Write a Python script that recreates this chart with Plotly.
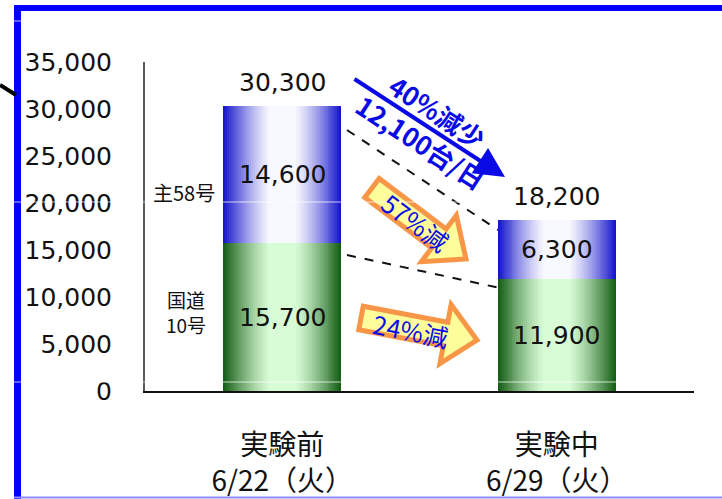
import plotly.graph_objects as go

# ---- data ----
categories = ["実験前", "実験中"]
dates = ["6/22（火）", "6/29（火）"]
route10 = [15700, 11900]      # 国道10号
route58 = [14600, 6300]       # 主58号
totals = [a + b for a, b in zip(route10, route58)]

FONT = "Noto Sans CJK JP"
NUM_FONT = "DejaVu Sans, Noto Sans CJK JP"
W, H = 722, 499
L, R, T, B = 145, 28, 62, 108          # plot-area margins (px)
PW, PH = W - L - R, H - T - B
BAR_W = 0.43
BLUE_TXT = "#0a0ae6"


def px(x, y):
    """pixel position -> paper coordinates"""
    return (x - L) / PW, (H - B - y) / PH


def mix(c1, c2, f):
    return "rgb(%d,%d,%d)" % tuple(round(a + (b - a) * f) for a, b in zip(c1, c2))


def edge_weight(t):
    v = max(0.0, min(1.0, (t - 0.22) / 0.78))
    return v ** 1.3


fig = go.Figure()

# horizontally shaded bars: concentric layers, darkest at the outer edges
N = 30
xs = list(range(len(categories)))
series = [
    (route10, [0] * len(route10), (22, 95, 22), (216, 252, 214)),
    (route58, route10, (22, 22, 205), (248, 248, 255)),
]
for k in range(N):
    t = (N - k) / N
    for vals, base, dark, light in series:
        fig.add_trace(go.Bar(
            x=xs, y=vals, base=base, width=BAR_W * t,
            marker=dict(color=mix(light, dark, edge_weight(t)), line=dict(width=0)),
            hoverinfo="skip", showlegend=False,
        ))

annotations = []
VAL_FONT = dict(size=25, color="#111", family=NUM_FONT)
# segment values and totals
for i in xs:
    annotations.append(dict(x=i, y=route10[i] / 2, xref="x", yref="y", text=f"{route10[i]:,}",
                            showarrow=False, font=VAL_FONT))
    annotations.append(dict(x=i, y=route10[i] + route58[i] / 2, xref="x", yref="y",
                            text=f"{route58[i]:,}", showarrow=False, font=VAL_FONT))
    annotations.append(dict(x=i, y=totals[i], xref="x", yref="y", text=f"{totals[i]:,}",
                            yanchor="bottom", yshift=7, showarrow=False, font=VAL_FONT))


def label(text, x, y, size, color="#111", angle=0):
    xp, yp = px(x, y)
    annotations.append(dict(x=xp, y=yp, xref="paper", yref="paper", text=text, textangle=angle,
                            xanchor="center", yanchor="middle", showarrow=False,
                            font=dict(size=size, color=color)))


# route names
label("主58号", 184, 192, 20)
label("国道<br>10号", 186, 312, 19)

# overall decrease arrow
tx, ty = px(505, 177)
annotations.append(dict(x=tx, y=ty, xref="paper", yref="paper", text="", showarrow=True,
                        ax=353 - 505, ay=78 - 177, arrowhead=2, arrowsize=1.5,
                        arrowwidth=4, arrowcolor=BLUE_TXT))
label("<b>40%減少</b>", 438, 111, 26, BLUE_TXT, 33)
label("<b>12,100台/日</b>", 421, 141, 26, BLUE_TXT, 33)

shapes = []


def block_arrow(s, t, hw, hh, hl):
    sx, sy = s
    tx_, ty_ = t
    d = ((tx_ - sx) ** 2 + (ty_ - sy) ** 2) ** 0.5
    ux, uy = (tx_ - sx) / d, (ty_ - sy) / d
    nx, ny = -uy, ux
    bx, by = tx_ - ux * hl, ty_ - uy * hl
    pts = [(sx + nx * hw, sy + ny * hw), (bx + nx * hw, by + ny * hw), (bx + nx * hh, by + ny * hh),
           (tx_, ty_), (bx - nx * hh, by - ny * hh), (bx - nx * hw, by - ny * hw),
           (sx - nx * hw, sy - ny * hw)]
    path = "M " + " L ".join("%.5f,%.5f" % px(x, y) for x, y in pts) + " Z"
    return dict(type="path", xref="paper", yref="paper", path=path,
                fillcolor="#fdfd9c", line=dict(color="#f79646", width=5), layer="above")


shapes.append(block_arrow((372, 188), (466, 259), 12, 29, 34))
shapes.append(block_arrow((361, 318), (477, 340), 12, 30, 32))
label("57%減", 416, 222, 25, BLUE_TXT, 37)
label("24%減", 411, 330, 25, BLUE_TXT, 11)

# dashed connectors between the bars
for (x0, y0), (x1, y1) in [((347, 130), (498, 230)), ((347, 255), (500, 288))]:
    a, b = px(x0, y0)
    c, d = px(x1, y1)
    shapes.append(dict(type="line", xref="paper", yref="paper", x0=a, y0=b, x1=c, y1=d,
                       line=dict(color="#111", width=2, dash="dash")))


def pline(p0, p1, color, width, layer="above"):
    a, b = px(*p0)
    c, d = px(*p1)
    shapes.append(dict(type="line", xref="paper", yref="paper", x0=a, y0=b, x1=c, y1=d,
                       line=dict(color=color, width=width), layer=layer))


# slide frame
pline((17.5, 5), (17.5, 499), "#0000ff", 7)
pline((14, 8), (722, 8), "#0000ff", 6)
pline((14, 497.5), (722, 497.5), "#8c8cff", 2)
pline((0, 85), (16, 95), "#000", 4)
# faint guide lines
for gy in (21, 202, 382):
    pline((0, gy), (722, gy), "rgba(255,255,255,0.75)", 1)

fig.update_layout(
    width=W, height=H, barmode="overlay", bargap=0,
    margin=dict(l=L, r=R, t=T, b=B, pad=0, autoexpand=False),
    paper_bgcolor="white", plot_bgcolor="white",
    font=dict(family=FONT, color="#111"),
    showlegend=False,
    annotations=annotations, shapes=shapes,
)
fig.update_xaxes(
    range=[-0.5, 1.5], tickvals=xs,
    ticktext=[f"{c}<br>{d}" for c, d in zip(categories, dates)],
    tickfont=dict(size=28, family=FONT, color="#111"), ticks="", ticklabelstandoff=28,
    automargin=False,
    showline=True, linecolor="#111", linewidth=2, showgrid=False, zeroline=False, fixedrange=True,
)
fig.update_yaxes(
    range=[0, 35000], tickvals=list(range(0, 35001, 5000)), tickformat=",",
    tickfont=dict(size=25, family=NUM_FONT, color="#111"), ticks="", ticklabelstandoff=26,
    automargin=False,
    showline=True, linecolor="#5a5a5a", linewidth=2, showgrid=False, zeroline=False, fixedrange=True,
)

fig.write_html("out.html")
